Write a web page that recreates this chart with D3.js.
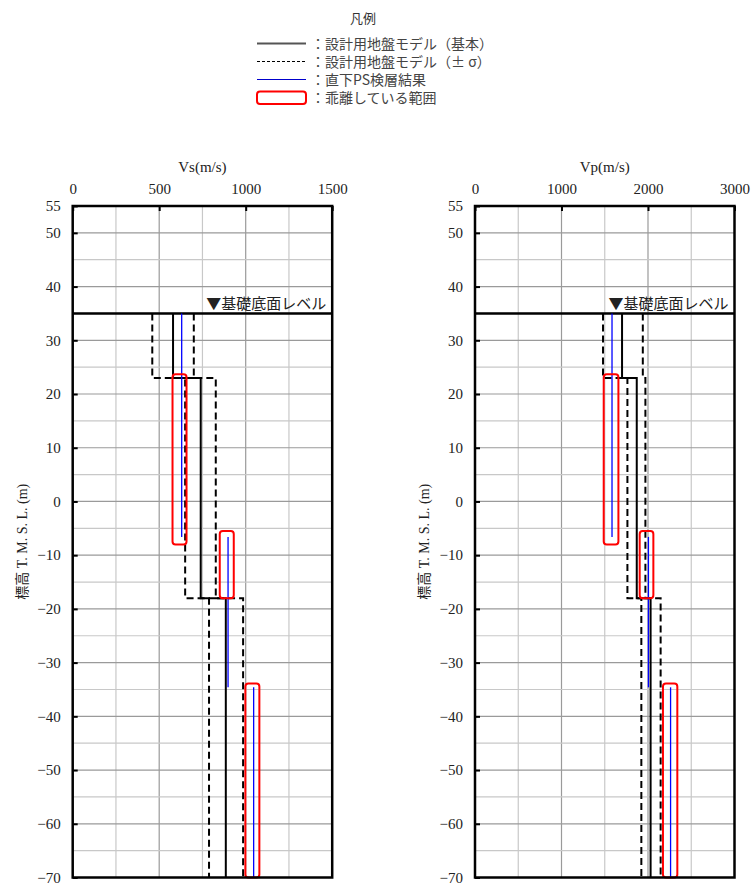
<!DOCTYPE html>
<html><head><meta charset="utf-8">
<script src="https://cdn.jsdelivr.net/npm/d3@7"></script>
<style>body{margin:0;background:#fff}svg{display:block}</style>
</head><body>
<script>
// ---- data ----
const depthTicks = [55, 50, 40, 30, 20, 10, 0, -10, -20, -30, -40, -50, -60, -70];
const baseLevel = 35;
const layerBounds = [35, 23, -18, -70];
const vsBase  = [580, 740, 885];
const vsMinus = [460, 650, 788];
const vsPlus  = [700, 827, 985];
const vpBase  = [1700, 1870, 2030];
const vpMinus = [1480, 1762, 1923];
const vpPlus  = [1940, 1970, 2146];
const psBounds = [35, -6.6, -34.6, -70];
const vsPS = [630, 898, 1046];
const vpPS = [1584, 2005, 2261];
const devTop    = [23.7, -5.5, -33.9];
const devBottom = [-8, -18, -70];
const vsDevLo = [577, 850, 998];
const vsDevHi = [658, 931, 1079];
const vpDevLo = [1488, 1904, 2173];
const vpDevHi = [1658, 2062, 2339];
const vsTicks = [0, 500, 1000, 1500];
const vpTicks = [0, 1000, 2000, 3000];
const legendLabels = ["：設計用地盤モデル（基本）", "：設計用地盤モデル（± σ）", "：直下PS検層結果", "：乖離している範囲"];
const legendTitle = "凡例";
const baseLabel = "▼基礎底面レベル";
const yTitle = "標高 T. M. S. L. (m)";

// ---- layout ----
const W = 753, H = 883;
const svg = d3.select("body").append("svg").attr("width", W).attr("height", H);
const serif = "'Liberation Serif','DejaVu Serif','Noto Sans CJK JP',serif";
const cjk = "'Noto Sans CJK JP','Noto Sans',sans-serif";
const yScale = d3.scaleLinear().domain([55, -70]).range([206, 877.5]);

function stepPoints(vals, bounds) {
  return vals.flatMap((v, i) => [[v, bounds[i]], [v, bounds[i + 1]]]);
}

function panel(cfg) {
  const x = d3.scaleLinear().domain([0, cfg.max]).range([cfg.left, cfg.left + 259.5]);
  const [x0, x1] = x.range();
  const [y0, y1] = yScale.range();
  const g = svg.append("g");

  // grid
  const vGrid = d3.range(cfg.grid, cfg.max, cfg.grid);
  g.selectAll(".vg").data(vGrid).join("line")
    .attr("x1", d => x(d)).attr("x2", d => x(d)).attr("y1", y0).attr("y2", y1)
    .attr("stroke", d => d % (cfg.grid * 2) === 0 ? "#9a9a9a" : "#c8c8c8").attr("stroke-width", 1.2);
  const hGrid = d3.range(50, -70, -5);
  g.selectAll(".hg").data(hGrid).join("line")
    .attr("x1", x0).attr("x2", x1).attr("y1", d => yScale(d)).attr("y2", d => yScale(d))
    .attr("stroke", d => d % 10 === 0 ? "#9a9a9a" : "#c8c8c8").attr("stroke-width", 1.2);

  // base level line
  g.append("line").attr("x1", x0).attr("x2", x1)
    .attr("y1", yScale(baseLevel)).attr("y2", yScale(baseLevel))
    .attr("stroke", "#000").attr("stroke-width", 2.5);
  g.append("text").attr("x", x1 - 6).attr("y", yScale(baseLevel) - 4)
    .attr("text-anchor", "end").attr("font-family", cjk).attr("font-size", 15)
    .attr("fill", "#222").text(baseLabel);

  const line = d3.line().x(d => x(d[0])).y(d => yScale(d[1]));
  // ±σ dashed
  [cfg.minus, cfg.plus].forEach(vals => {
    g.append("path").attr("d", line(stepPoints(vals, layerBounds)))
      .attr("fill", "none").attr("stroke", "#000").attr("stroke-width", 2)
      .attr("stroke-dasharray", "7,4");
  });
  // basic solid
  g.append("path").attr("d", line(stepPoints(cfg.base, layerBounds)))
    .attr("fill", "none").attr("stroke", "#000").attr("stroke-width", 2);
  // PS logging (blue segments)
  g.selectAll(".ps").data(cfg.ps).join("line")
    .attr("x1", d => x(d)).attr("x2", d => x(d))
    .attr("y1", (d, i) => yScale(psBounds[i])).attr("y2", (d, i) => yScale(psBounds[i + 1]))
    .attr("stroke", "#0000ff").attr("stroke-width", 1.3);
  // deviation boxes
  g.selectAll(".dev").data(cfg.devLo).join("rect")
    .attr("x", d => x(d)).attr("width", (d, i) => x(cfg.devHi[i]) - x(d))
    .attr("y", (d, i) => yScale(devTop[i])).attr("height", (d, i) => yScale(devBottom[i]) - yScale(devTop[i]))
    .attr("rx", 3).attr("fill", "none").attr("stroke", "#ff0000").attr("stroke-width", 2);

  // axes
  const top = g.append("g").attr("transform", `translate(0,${y0})`)
    .call(d3.axisTop(x).tickValues(cfg.ticks).tickSize(-5).tickPadding(12).tickFormat(d3.format("d")));
  const left = g.append("g").attr("transform", `translate(${x0},0)`)
    .call(d3.axisLeft(yScale).tickValues(depthTicks).tickSize(-5).tickPadding(12));
  [top, left].forEach(a => {
    a.select(".domain").remove();
    a.selectAll(".tick line").attr("stroke", "#000").attr("stroke-width", 2);
    a.selectAll(".tick text").attr("font-family", serif).attr("font-size", 15).attr("fill", "#222");
  });

  // border
  g.append("rect").attr("x", x0).attr("y", y0).attr("width", x1 - x0).attr("height", y1 - y0)
    .attr("fill", "none").attr("stroke", "#000").attr("stroke-width", 2.5);

  // titles
  g.append("text").attr("x", (x0 + x1) / 2).attr("y", 172).attr("text-anchor", "middle")
    .attr("font-family", serif).attr("font-size", 15).attr("fill", "#222").text(cfg.title);
  g.append("text").attr("transform", `translate(${x0 - 46},${(y0 + y1) / 2}) rotate(-90)`)
    .attr("text-anchor", "middle").attr("font-family", serif).attr("font-size", 14)
    .attr("fill", "#222").text(yTitle);
}

panel({left: 72.7, max: 1500, grid: 250, ticks: vsTicks, title: "Vs(m/s)",
  base: vsBase, minus: vsMinus, plus: vsPlus, ps: vsPS, devLo: vsDevLo, devHi: vsDevHi});
panel({left: 475, max: 3000, grid: 500, ticks: vpTicks, title: "Vp(m/s)",
  base: vpBase, minus: vpMinus, plus: vpPlus, ps: vpPS, devLo: vpDevLo, devHi: vpDevHi});

// ---- legend ----
const lg = svg.append("g");
lg.append("text").attr("x", 363).attr("y", 23).attr("text-anchor", "middle")
  .attr("font-family", cjk).attr("font-size", 13).attr("fill", "#333").text(legendTitle);
const rowY = [43.5, 61.5, 79.5, 97.5];
const lx0 = 257, lx1 = 306;
lg.append("line").attr("x1", lx0).attr("x2", lx1).attr("y1", rowY[0]).attr("y2", rowY[0])
  .attr("stroke", "#555").attr("stroke-width", 1.8);
lg.append("line").attr("x1", lx0).attr("x2", lx1).attr("y1", rowY[1]).attr("y2", rowY[1])
  .attr("stroke", "#000").attr("stroke-width", 1).attr("stroke-dasharray", "3,2");
lg.append("line").attr("x1", lx0).attr("x2", lx1).attr("y1", rowY[2]).attr("y2", rowY[2])
  .attr("stroke", "#0000cc").attr("stroke-width", 1);
lg.append("rect").attr("x", lx0).attr("y", rowY[3] - 6).attr("width", lx1 - lx0).attr("height", 12.5)
  .attr("rx", 3).attr("fill", "none").attr("stroke", "#ff0000").attr("stroke-width", 2);
lg.selectAll(".lt").data(legendLabels).join("text")
  .attr("x", 311).attr("y", (d, i) => rowY[i] + 5)
  .attr("font-family", cjk).attr("font-size", 14).attr("fill", "#444").text(d => d);
</script>
</body></html>
